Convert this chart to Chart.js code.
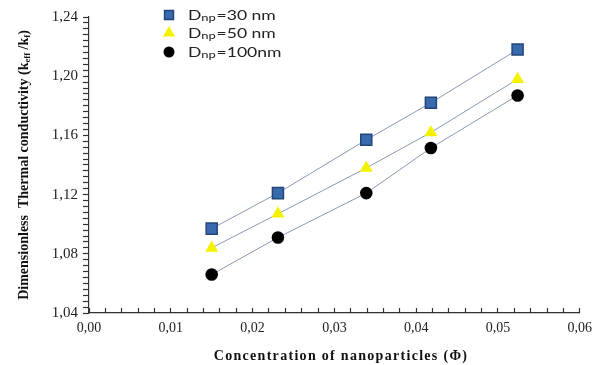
<!DOCTYPE html>
<html>
<head>
<meta charset="utf-8">
<script src="https://cdn.jsdelivr.net/npm/chart.js@4.4.1/dist/chart.umd.min.js"></script>
<style>
  html, body { margin: 0; padding: 0; background: #fff; }
  #wrap { width: 604px; height: 365px; position: relative; }
</style>
</head>
<body>
<div id="wrap"><canvas id="kChart"></canvas></div>
<script>
// volume fraction of nanoparticles
const phi = [0.0150, 0.0231, 0.0339, 0.0418, 0.0524];
// dimensionless thermal conductivity keff/kf
const d30 = [1.097, 1.121, 1.157, 1.182, 1.218];
const d50 = [1.084, 1.107, 1.138, 1.162, 1.198];
const d100 = [1.066, 1.091, 1.121, 1.1515, 1.187];
const seriesSuffix = ['=30 nm', '=50 nm', '=100nm'];
const xTitle = 'Concentration of nanoparticles (\u03A6)';
const yTitleParts = [['Dimensionless  Thermal conductivity (k', false], ['eff', true], [' /k', false], ['f', true], [')', false]];

function pts(ys) {
    return phi.map(function(x, i) { return { x: x, y: ys[i] }; });
}

const lineColor = '#8a98b3';

function comma(v) { return v.toFixed(2).replace('.', ','); }

function richWidth(ctx, parts, size, family) {
    let w = 0;
    parts.forEach(function(p) {
        ctx.font = 'bold ' + (p[1] ? size * 0.62 : size) + 'px ' + family;
        w += ctx.measureText(p[0]).width;
    });
    return w;
}

const titlesAndLegend = {
    id: 'titlesAndLegend',
    afterDraw: function(chart) {
        const ctx = chart.ctx;
        const area = chart.chartArea;
        ctx.save();
        ctx.fillStyle = '#111';
        ctx.textBaseline = 'alphabetic';

        // x title
        ctx.font = 'bold 14px "Liberation Serif"';
        ctx.letterSpacing = '1.3px';
        ctx.textAlign = 'center';
        ctx.fillText(xTitle, 341, 360);
        ctx.letterSpacing = '0px';

        // y title (rotated)
        ctx.save();
        ctx.translate(28, (area.top + area.bottom) / 2);
        ctx.rotate(-Math.PI / 2);
        const fam = '"Liberation Serif"';
        const size = 14;
        const total = richWidth(ctx, yTitleParts, size, fam);
        let x = -total / 2;
        ctx.textAlign = 'left';
        yTitleParts.forEach(function(p) {
            ctx.font = 'bold ' + (p[1] ? size * 0.62 : size) + 'px ' + fam;
            ctx.fillText(p[0], x, p[1] ? 2 : 0);
            x += ctx.measureText(p[0]).width;
        });
        ctx.restore();

        // legend
        const rows = [15, 33, 52];
        chart.data.datasets.forEach(function(ds, i) {
            const cy = rows[i];
            ctx.fillStyle = ds.backgroundColor;
            ctx.strokeStyle = ds.borderColor;
            ctx.lineWidth = ds.pointBorderWidth || 0;
            Chart.helpers.drawPoint(ctx, {
                pointStyle: ds.pointStyle,
                radius: ds.legendRadius,
                rotation: 0,
                borderWidth: ds.pointBorderWidth || 0
            }, 169, cy);
            ctx.save();
            ctx.translate(188, cy + 5);
            ctx.scale(1.3, 1);
            ctx.fillStyle = '#222';
            ctx.textAlign = 'left';
            let tx = 0;
            ctx.font = '13.5px Lato';
            ctx.fillText('D', tx, 0);
            tx += ctx.measureText('D').width;
            ctx.font = '10px Lato';
            ctx.fillText('np', tx, 1);
            tx += ctx.measureText('np').width + 0.5;
            ctx.font = '13.5px Lato';
            ctx.fillText(seriesSuffix[i], tx, 0);
            ctx.restore();
        });
        ctx.restore();
    }
};

new Chart(document.getElementById('kChart'), {
    type: 'scatter',
    data: {
        datasets: [
            {
                label: 'Dnp=30 nm',
                data: pts(d30),
                showLine: true,
                borderColor: '#23457a',
                backgroundColor: '#3a6aae',
                pointStyle: 'rect',
                pointRadius: 7.8,
                pointBorderWidth: 1.5,
                legendRadius: 6.3,
                segment: { borderColor: lineColor },
                borderWidth: 1
            },
            {
                label: 'Dnp=50 nm',
                data: pts(d50),
                showLine: true,
                borderColor: '#f5f200',
                backgroundColor: '#f5f200',
                pointStyle: 'triangle',
                pointRadius: 7.5,
                pointBorderWidth: 0,
                legendRadius: 7,
                segment: { borderColor: lineColor },
                borderWidth: 1
            },
            {
                label: 'Dnp=100nm',
                data: pts(d100),
                showLine: true,
                borderColor: '#000',
                backgroundColor: '#000',
                pointStyle: 'circle',
                pointRadius: 6.3,
                pointBorderWidth: 0,
                legendRadius: 5.5,
                segment: { borderColor: lineColor },
                borderWidth: 1
            }
        ]
    },
    options: {
        responsive: true,
        maintainAspectRatio: false,
        animation: false,
        layout: { padding: { left: 0, top: 17, right: 24, bottom: 0 } },
        plugins: { legend: { display: false }, tooltip: { enabled: false } },
        scales: {
            x: {
                type: 'linear',
                min: 0, max: 0.06,
                afterFit: function(s) { s.height = 52; },
                border: { display: true, color: '#333', width: 1.2 },
                grid: { drawOnChartArea: false, tickLength: -5, color: '#333', tickWidth: 1.2 },
                ticks: {
                    stepSize: 0.002,
                    autoSkip: false,
                    maxRotation: 0,
                    padding: 12,
                    color: '#222',
                    font: { family: '"Liberation Serif"', size: 14 },
                    callback: function(v) {
                        return Math.round(v * 1000) % 10 === 0 ? comma(v) : '';
                    }
                }
            },
            y: {
                min: 1.04, max: 1.24,
                afterFit: function(s) { s.width = 89; },
                border: { display: true, color: '#333', width: 1.2 },
                grid: { drawOnChartArea: false, tickLength: 6, color: '#333', tickWidth: 1.2 },
                ticks: {
                    stepSize: 0.004,
                    autoSkip: false,
                    padding: 5,
                    color: '#222',
                    font: { family: '"Liberation Serif"', size: 15 },
                    callback: function(v) {
                        return Math.round(v * 1000) % 40 === 0 ? comma(v) : '';
                    }
                }
            }
        }
    },
    plugins: [titlesAndLegend]
});
</script>
</body>
</html>
